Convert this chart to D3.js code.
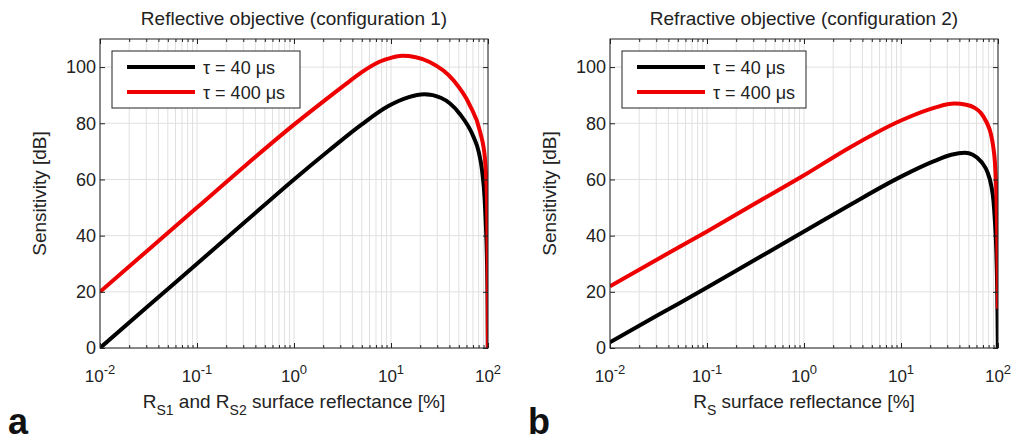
<!DOCTYPE html>
<html>
<head>
<meta charset="utf-8">
<script src="https://cdn.jsdelivr.net/npm/d3@7"></script>
<style>
  body { margin: 0; background: #fff; }
  svg { font-family: "Liberation Sans", Arial, sans-serif; }
</style>
</head>
<body>
<svg id="chart" width="1016" height="443"></svg>
<script>
// reflectance [%] vs sensitivity [dB]
var cfg1Tau40 = [[0.01,0],[0.0316,15],[0.1,30],[0.316,45],[1,60],[2.29,70.3],[5,79.6],[9.5,86.2],
                 [15,89.2],[22,90.3],[33,89],[51,83.4],[71,75.1],[80,70],[87,63],[92,54],[95,44],
                 [97.5,32],[99,16],[99.6,0]];
var cfg1Tau400 = [[0.01,20],[0.0316,35],[0.1,50],[0.316,65],[1,79.5],[2.29,89.3],[3.5,94.2],[5,98.2],
                  [7.6,101.9],[10,103.3],[13,104],[18,103.5],[25,101.8],[44,95.3],[65,86.4],[83,76.9],
                  [93,67.5],[96,60],[98,50],[99,36],[99.5,20],[99.8,0]];
var cfg2Tau40 = [[0.01,2],[0.0316,11.8],[0.1,21.5],[0.316,31.5],[1,41.5],[3,51],[10,61],[21.9,66.5],
                 [33,68.8],[45.7,69.5],[55,68.8],[67.6,66.2],[78,62.5],[85,58],[90,52],[93,45],
                 [96,35],[98,22],[99,10],[99.6,0]];
var cfg2Tau400 = [[0.01,22],[0.0316,31.8],[0.1,41.5],[0.316,51.5],[1,61.5],[3,71.5],[10,81],[21.9,85.5],
                  [35.5,87],[47,86.6],[57.5,85.5],[67,83.6],[75.9,80.5],[84,76.5],[89,72],[93,66],[95.5,58],
                  [98,42],[99,30],[99.5,20],[99.7,14]];

var xTickExps = [-2, -1, 0, 1, 2];
var yTicks = [0, 20, 40, 60, 80, 100];
var legendLabels = ["\u03c4 = 40 \u03bcs", "\u03c4 = 400 \u03bcs"];
var seriesColors = ["#000000", "#ee0000"];

var svg = d3.select("#chart");
var plotTop = 39, plotBottom = 348, pw = 388;

var x = d3.scaleLog().domain([0.01, 100]).range([0, pw]);
var y = d3.scaleLinear().domain([0, 110]).range([plotBottom - plotTop, 0]);

var minorTicks = [];
for (var e = -2; e < 2; e++) {
	for (var m = 2; m <= 9; m++) minorTicks.push(m * Math.pow(10, e));
}
var majorTicks = xTickExps.map(function(e){ return Math.pow(10, e); });

var panels = [
	{left: 100, title: "Reflective objective (configuration 1)", letter: "a", letterX: 8,
	 xlabel: [["R", 0], ["S1", 1], [" and R", 0], ["S2", 1], [" surface reflectance [%]", 0]],
	 series: [cfg1Tau40, cfg1Tau400], legendW: 188},
	{left: 610, title: "Refractive objective (configuration 2)", letter: "b", letterX: 528,
	 xlabel: [["R", 0], ["S", 1], [" surface reflectance [%]", 0]],
	 series: [cfg2Tau40, cfg2Tau400], legendW: 184}
];

panels.forEach(function(p, pi){
	var g = svg.append("g").attr("transform", "translate(" + p.left + "," + plotTop + ")");
	var h = plotBottom - plotTop;

	g.append("clipPath").attr("id", "clip" + pi)
		.append("rect").attr("width", pw).attr("height", h);

	// grid
	var grid = g.append("g").attr("stroke", "#e0e0e0").attr("stroke-width", 1);
	minorTicks.concat(majorTicks).forEach(function(t){
		grid.append("line").attr("x1", x(t)).attr("x2", x(t)).attr("y1", 0).attr("y2", h);
	});
	yTicks.forEach(function(t){
		grid.append("line").attr("x1", 0).attr("x2", pw).attr("y1", y(t)).attr("y2", y(t));
	});

	// curves
	var line = d3.line()
		.x(function(d){ return x(d[0]); })
		.y(function(d){ return y(d[1]); })
		.curve(d3.curveMonotoneX);
	p.series.forEach(function(s, i){
		g.append("path").datum(s)
			.attr("clip-path", "url(#clip" + pi + ")")
			.attr("d", line)
			.attr("fill", "none")
			.attr("stroke", seriesColors[i])
			.attr("stroke-width", 4)
			.attr("stroke-linejoin", "round");
	});

	// axes with inward ticks
	var yAx = g.append("g").call(d3.axisLeft(y).tickValues(yTicks).tickSize(-5).tickPadding(4));
	yAx.selectAll("text").attr("font-size", 18).attr("font-family", "Liberation Sans, Arial, sans-serif").attr("fill", "#222");
	g.append("g").attr("transform", "translate(" + pw + ",0)")
		.call(d3.axisRight(y).tickValues(yTicks).tickSize(-5).tickFormat(""));
	g.append("g").attr("transform", "translate(0," + h + ")")
		.call(d3.axisBottom(x).tickValues(majorTicks).tickSize(-5).tickFormat(""));
	g.append("g").attr("transform", "translate(0," + h + ")")
		.call(d3.axisBottom(x).tickValues(minorTicks).tickSize(-3).tickFormat(""));
	g.append("g").call(d3.axisTop(x).tickValues(majorTicks).tickSize(-5).tickFormat(""));
	g.append("g").call(d3.axisTop(x).tickValues(minorTicks).tickSize(-3).tickFormat(""));
	g.selectAll(".domain").remove();
	g.selectAll(".tick line").attr("stroke", "#222");
	g.selectAll(".tick text").filter(function(){ return this.textContent === ""; }).remove();

	g.append("rect").attr("width", pw).attr("height", h)
		.attr("fill", "none").attr("stroke", "#222").attr("stroke-width", 1);

	// x tick labels 10^n
	xTickExps.forEach(function(e){
		var t = g.append("text").attr("x", x(Math.pow(10, e))).attr("y", h + 34)
			.attr("text-anchor", "middle").attr("font-size", 17).attr("fill", "#222");
		t.append("tspan").text("10");
		t.append("tspan").attr("dy", -8).attr("font-size", 13).text(e);
	});

	// titles
	g.append("text").attr("x", pw / 2).attr("y", -14).attr("text-anchor", "middle")
		.attr("font-size", 19).attr("fill", "#222").text(p.title);
	g.append("text").attr("transform", "translate(-54," + (h / 2) + ") rotate(-90)")
		.attr("text-anchor", "middle").attr("font-size", 19).attr("fill", "#222").text("Sensitivity [dB]");
	var xl = g.append("text").attr("x", pw / 2).attr("y", h + 60).attr("text-anchor", "middle")
		.attr("font-size", 19).attr("fill", "#222");
	var sub = 0;
	p.xlabel.forEach(function(part){
		var dy = part[1] - sub;
		var ts = xl.append("tspan").attr("dy", dy * 7).text(part[0]);
		if (part[1]) ts.attr("font-size", 14);
		sub = part[1];
	});

	// legend
	var lg = g.append("g").attr("transform", "translate(12,12)");
	lg.append("rect").attr("width", p.legendW).attr("height", 57)
		.attr("fill", "#fff").attr("stroke", "#222").attr("stroke-width", 1);
	legendLabels.forEach(function(lab, i){
		lg.append("line").attr("x1", 15).attr("x2", 83).attr("y1", 16 + i * 25).attr("y2", 16 + i * 25)
			.attr("stroke", seriesColors[i]).attr("stroke-width", 4);
		lg.append("text").attr("x", 91).attr("y", 23 + i * 25).attr("font-size", 18)
			.attr("fill", "#222").text(lab);
	});

	svg.append("text").attr("x", p.letterX).attr("y", 434).attr("font-size", 36)
		.attr("font-weight", "bold").attr("fill", "#111").text(p.letter);
});
</script>
</body>
</html>
